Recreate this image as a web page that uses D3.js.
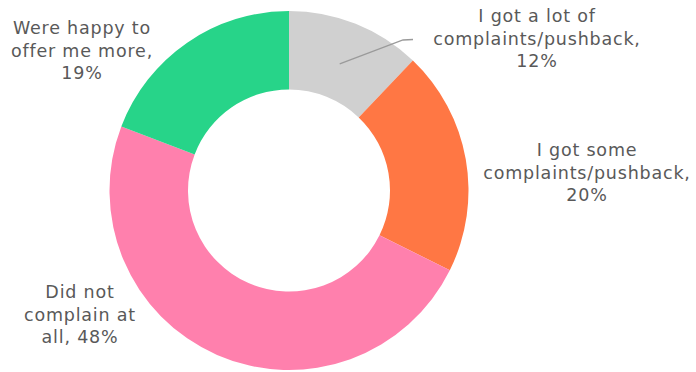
<!DOCTYPE html>
<html>
<head>
<meta charset="utf-8">
<script src="https://cdn.jsdelivr.net/npm/d3@7"></script>
<style>
  html, body { margin: 0; padding: 0; background: #fff; }
  svg { display: block; }
  .lbl { font-family: "DejaVu Sans", "Noto Sans", sans-serif; font-size: 17.5px; letter-spacing: 0.8px; fill: #595959; }
</style>
</head>
<body>
<svg id="chart" width="696" height="372"></svg>
<script>
// Survey responses, clockwise from 12 o'clock
const categories = [
  "I got a lot of complaints/pushback",
  "I got some complaints/pushback",
  "Did not complain at all",
  "Were happy to offer me more"
];
const values = [12, 20, 48, 19];
const colors = ["#d0d0d0", "#ff7744", "#ff80ad", "#27d489"];
// Label lines as displayed next to each slice
const labelLines = [
  ["I got a lot of", "complaints/pushback,", "12%"],
  ["I got some", "complaints/pushback,", "20%"],
  ["Did not", "complain at", "all, 48%"],
  ["Were happy to", "offer me more,", "19%"]
];

const width = 696, height = 372;
const cx = 289, cy = 190.5;
const outerR = 179.5, innerR = 101;

const svg = d3.select("#chart");
const g = svg.append("g").attr("transform", `translate(${cx},${cy})`);

const pie = d3.pie().sort(null).value(d => d)(values);
const arc = d3.arc().innerRadius(innerR).outerRadius(outerR);

g.selectAll("path.slice")
  .data(pie)
  .join("path")
  .attr("class", "slice")
  .attr("d", arc)
  .attr("fill", (d, i) => colors[i]);

// Label anchor centres (x) and first-line baselines (y), in page coordinates
const labelPos = [
  { x: 537, y: 22 },
  { x: 587, y: 156 },
  { x: 80, y: 298 },
  { x: 82, y: 34 }
];
const lineH = 22.5;

labelLines.forEach((lines, i) => {
  const t = svg.append("text")
    .attr("class", "lbl")
    .attr("text-anchor", "middle")
    .attr("x", labelPos[i].x)
    .attr("y", labelPos[i].y);
  lines.forEach((s, j) => {
    t.append("tspan")
      .attr("x", labelPos[i].x)
      .attr("y", labelPos[i].y + j * lineH)
      .text(s);
  });
});

// Leader line from the small grey slice to its label
const gray = pie[0];
const mid = (gray.startAngle + gray.endAngle) / 2;
const rIn = outerR * 0.76;
const p0 = [cx + Math.sin(mid) * rIn, cy - Math.cos(mid) * rIn];
svg.append("polyline")
  .attr("points", [p0, [403, 40], [413, 39.5]].map(p => p.join(",")).join(" "))
  .attr("fill", "none")
  .attr("stroke", "#9a9a9a")
  .attr("stroke-width", 1.3);
</script>
</body>
</html>
